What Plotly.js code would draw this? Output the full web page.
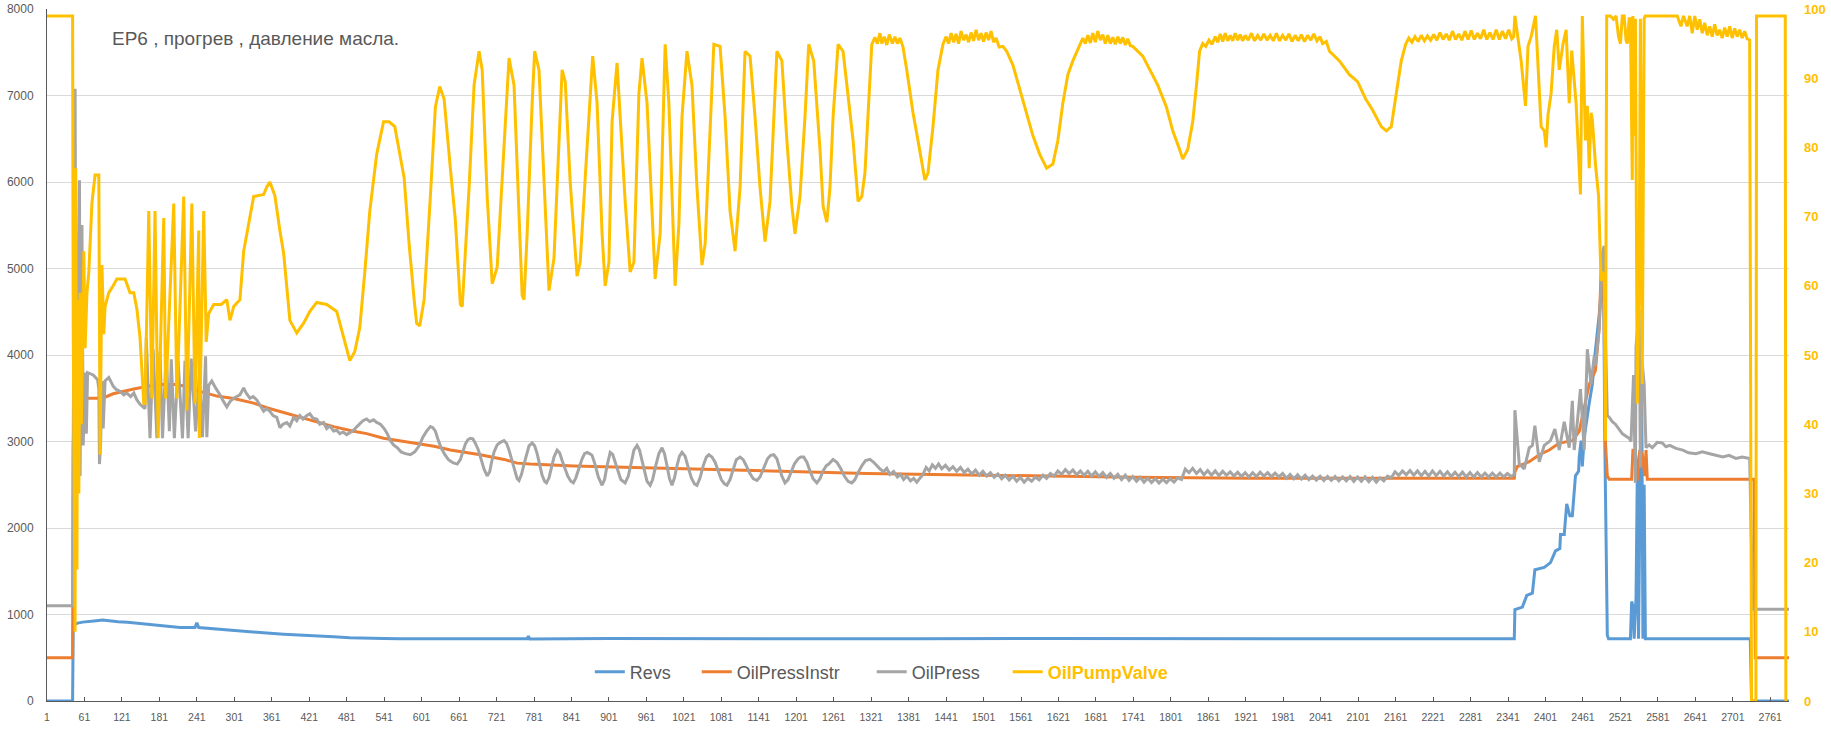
<!DOCTYPE html>
<html>
<head>
<meta charset="utf-8">
<script src="https://cdn.plot.ly/plotly-3.0.1.min.js"></script>
<style>
html,body{margin:0;padding:0;background:#fff;}
#chart{width:1831px;height:735px;}
</style>
</head>
<body>
<div id="chart"></div>
<script>
// ---- data (sample index, value) ----
const tickLabels = ["1","61","121","181","241","301","361","421","481","541","601","661","721","781","841","901","961","1021","1081","1141","1201","1261","1321","1381","1441","1501","1561","1621","1681","1741","1801","1861","1921","1981","2041","2101","2161","2221","2281","2341","2401","2461","2521","2581","2641","2701","2761"];

// Revs (left axis)
const revsPts = [[1,0],[42,0],[43,880],[50,900],[58,912],[65,915],[72,922],[80,928],[90,935],[100,925],[115,915],[130,910],[150,895],[165,880],[180,870],[200,858],[214,851],[238,850],[241,905],[244,850],[260,840],[280,826],[300,813],[325,800],[353,786],[380,772],[406,760],[433,752],[460,743],[486,732],[513,725],[540,722],[566,720],[620,718],[700,722],[770,720],[772,750],[774,718],[900,722],[1000,720],[1200,722],[1400,720],[1600,722],[1800,720],[2000,722],[2200,720],[2351,720],[2352,1057],[2364,1085],[2371,1220],[2380,1247],[2384,1518],[2399,1545],[2409,1600],[2417,1735],[2424,1762],[2425,1925],[2431,1925],[2435,2278],[2440,2142],[2444,2142],[2449,2603],[2454,2657],[2455,2820],[2458,3010],[2460,2712],[2463,3043],[2471,3443],[2476,3660],[2480,3986],[2490,4637],[2494,4950],[2496,3000],[2498,1500],[2500,760],[2502,720],[2537,720],[2539,1150],[2541,1100],[2543,720],[2546,1200],[2548,2600],[2550,720],[2553,2800],[2555,3800],[2557,720],[2559,2500],[2561,720],[2563,720],[2650,722],[2729,720],[2731,0],[2791,0]];

// OilPressInstr (left axis)
const instrPts = [[1,500],[42,500],[43,2950],[45,3500],[90,3500],[107,3552],[140,3606],[177,3660],[209,3660],[225,3633],[246,3579],[273,3525],[300,3498],[332,3444],[353,3390],[380,3335],[406,3281],[433,3227],[460,3172],[492,3118],[513,3091],[540,3037],[566,3010],[589,2982],[621,2945],[647,2901],[663,2885],[695,2847],[733,2793],[754,2750],[775,2739],[802,2728],[845,2717],[909,2706],[962,2695],[1015,2684],[1095,2668],[1175,2652],[1255,2641],[1314,2630],[1420,2619],[1527,2608],[1634,2598],[1740,2587],[1927,2576],[2351,2576],[2352,2650],[2356,2711],[2375,2766],[2391,2847],[2407,2901],[2423,2982],[2444,3010],[2455,3118],[2463,3389],[2471,3660],[2481,3823],[2487,4311],[2490,4962],[2494,5150],[2497,3000],[2500,2600],[2503,2565],[2539,2565],[2541,2900],[2545,2900],[2548,2550],[2552,2900],[2556,2850],[2560,2600],[2562,2900],[2564,2565],[2735,2565],[2737,500],[2791,500]];

// OilPress (left axis)
const pressPts = [[1,1100],[42,1100],[43,3000],[46,7077],[48,2500],[50,4500],[53,6019],[54,2600],[57,5504],[59,2955],[62,3796],[64,3091],[66,3796],[75,3769],[82,3715],[84,3606],[85,2739],[87,3000],[89,3700],[91,3150],[94,3700],[100,3740],[107,3640],[112,3600],[118,3580],[124,3540],[129,3560],[135,3520],[140,3560],[145,3480],[150,3430],[155,3400],[158,3380],[160,4203],[166,3037],[171,4067],[177,3037],[182,4040],[186,3037],[192,4040],[197,3118],[200,3950],[205,3037],[211,3932],[218,3037],[222,3932],[227,3037],[232,3959],[239,3118],[245,3769],[250,3050],[255,3986],[257,3050],[260,3650],[265,3700],[271,3620],[275,3580],[278,3540],[283,3470],[289,3400],[294,3460],[300,3500],[305,3520],[310,3540],[316,3620],[320,3560],[326,3500],[331,3520],[337,3480],[342,3420],[348,3350],[353,3380],[358,3350],[363,3300],[369,3280],[374,3160],[379,3200],[385,3220],[390,3180],[396,3280],[401,3240],[406,3300],[411,3260],[417,3300],[422,3320],[427,3270],[433,3260],[438,3200],[444,3220],[449,3150],[454,3180],[460,3120],[465,3130],[470,3090],[475,3110],[481,3080],[486,3100],[492,3130],[497,3170],[502,3200],[507,3240],[513,3260],[518,3230],[524,3250],[529,3220],[535,3200],[541,3150],[546,3091],[551,3010],[556,2960],[562,2928],[568,2880],[575,2860],[583,2847],[590,2880],[597,2950],[603,3050],[609,3120],[615,3172],[619,3160],[623,3120],[627,3030],[632,2930],[638,2850],[644,2790],[651,2755],[658,2739],[663,2790],[667,2880],[671,2970],[675,3020],[679,3037],[683,3030],[687,2980],[692,2900],[697,2790],[701,2680],[706,2603],[710,2650],[713,2760],[717,2880],[722,2960],[727,2990],[733,3010],[737,2980],[741,2900],[745,2790],[750,2650],[754,2570],[757,2549],[761,2620],[765,2739],[769,2860],[773,2950],[778,2983],[782,2950],[786,2860],[790,2730],[794,2610],[798,2540],[801,2522],[805,2580],[809,2690],[813,2820],[818,2901],[822,2870],[826,2780],[830,2700],[835,2600],[840,2540],[844,2522],[848,2580],[853,2700],[858,2800],[862,2860],[866,2874],[870,2860],[874,2840],[879,2730],[884,2590],[890,2494],[894,2560],[898,2720],[903,2874],[907,2850],[911,2760],[915,2650],[920,2560],[927,2522],[932,2600],[937,2760],[941,2900],[946,2955],[950,2900],[954,2780],[958,2650],[962,2540],[967,2494],[971,2560],[976,2720],[981,2860],[986,2928],[990,2860],[994,2720],[998,2570],[1002,2494],[1006,2580],[1010,2720],[1014,2830],[1018,2874],[1023,2830],[1028,2700],[1033,2580],[1038,2510],[1042,2494],[1047,2580],[1052,2720],[1057,2820],[1061,2847],[1066,2820],[1071,2760],[1076,2660],[1081,2560],[1086,2510],[1090,2494],[1095,2560],[1100,2690],[1105,2790],[1111,2820],[1116,2790],[1121,2720],[1126,2640],[1132,2570],[1138,2549],[1143,2590],[1149,2700],[1155,2800],[1160,2840],[1165,2847],[1170,2800],[1174,2700],[1178,2600],[1183,2522],[1188,2560],[1193,2650],[1198,2740],[1204,2800],[1208,2820],[1213,2820],[1218,2760],[1223,2660],[1228,2570],[1234,2522],[1239,2570],[1244,2660],[1249,2720],[1253,2739],[1260,2793],[1266,2760],[1272,2690],[1278,2600],[1284,2540],[1290,2522],[1295,2560],[1300,2640],[1306,2720],[1312,2780],[1319,2793],[1325,2760],[1330,2720],[1335,2684],[1341,2650],[1346,2690],[1351,2620],[1357,2655],[1363,2590],[1368,2620],[1373,2560],[1378,2600],[1384,2545],[1389,2575],[1394,2530],[1399,2570],[1404,2620],[1409,2700],[1414,2660],[1419,2730],[1424,2690],[1429,2740],[1434,2685],[1440,2725],[1446,2670],[1452,2710],[1458,2655],[1464,2700],[1470,2640],[1476,2680],[1482,2625],[1488,2670],[1494,2610],[1500,2655],[1506,2600],[1512,2640],[1518,2585],[1524,2625],[1530,2570],[1536,2610],[1542,2555],[1548,2600],[1554,2540],[1560,2585],[1566,2530],[1572,2575],[1578,2540],[1584,2590],[1590,2555],[1596,2610],[1602,2575],[1608,2630],[1614,2600],[1620,2660],[1626,2620],[1632,2675],[1638,2630],[1644,2670],[1650,2615],[1656,2660],[1662,2610],[1668,2655],[1674,2600],[1680,2650],[1686,2595],[1692,2640],[1698,2585],[1704,2630],[1710,2575],[1716,2620],[1722,2560],[1728,2610],[1734,2550],[1740,2595],[1746,2540],[1752,2585],[1758,2530],[1764,2575],[1770,2525],[1776,2570],[1782,2520],[1788,2565],[1794,2525],[1800,2570],[1806,2530],[1812,2580],[1818,2560],[1824,2680],[1830,2640],[1836,2690],[1842,2630],[1848,2675],[1854,2615],[1860,2665],[1866,2610],[1872,2660],[1878,2605],[1884,2655],[1890,2610],[1896,2650],[1902,2600],[1908,2645],[1914,2595],[1920,2640],[1926,2590],[1932,2640],[1938,2595],[1944,2645],[1950,2600],[1956,2640],[1962,2595],[1968,2635],[1974,2590],[1980,2630],[1986,2575],[1992,2620],[1998,2570],[2004,2615],[2010,2565],[2016,2610],[2022,2560],[2028,2600],[2034,2555],[2040,2600],[2046,2550],[2052,2595],[2058,2550],[2064,2595],[2070,2545],[2076,2590],[2082,2545],[2088,2595],[2094,2540],[2100,2590],[2106,2540],[2112,2590],[2118,2535],[2124,2585],[2130,2530],[2136,2580],[2142,2545],[2148,2600],[2154,2580],[2160,2650],[2166,2610],[2172,2660],[2178,2615],[2184,2665],[2190,2610],[2196,2660],[2202,2605],[2208,2655],[2214,2600],[2220,2660],[2226,2605],[2232,2655],[2238,2600],[2244,2650],[2250,2595],[2256,2645],[2262,2595],[2268,2645],[2274,2590],[2280,2640],[2286,2590],[2292,2640],[2298,2590],[2304,2635],[2310,2590],[2316,2635],[2322,2590],[2328,2635],[2334,2590],[2340,2630],[2346,2595],[2351,2620],[2352,3362],[2359,2739],[2367,2684],[2375,2928],[2380,2955],[2384,3183],[2391,2766],[2399,2955],[2409,3010],[2416,3145],[2423,2901],[2431,3227],[2439,2928],[2444,3471],[2447,2901],[2452,3227],[2457,3606],[2463,2901],[2468,4067],[2474,3660],[2479,3986],[2481,3877],[2487,4311],[2492,5179],[2495,5260],[2497,4200],[2500,3300],[2503,3281],[2508,3230],[2513,3200],[2518,3150],[2524,3091],[2530,3060],[2535,3037],[2538,3000],[2542,3769],[2545,2522],[2546,4094],[2551,4528],[2553,2700],[2556,3900],[2559,3660],[2562,2928],[2567,2960],[2572,2928],[2580,2990],[2588,2983],[2594,2940],[2600,2955],[2610,2920],[2621,2901],[2630,2870],[2642,2858],[2652,2880],[2664,2858],[2674,2840],[2685,2820],[2695,2840],[2706,2804],[2716,2820],[2728,2804],[2733,1060],[2791,1060]];

// OilPumpValve (right axis, %)
const valvePts = [[1,99],[42,99],[43,54],[46,10],[47,77],[49,19],[50,58],[52,30],[54,59],[56,40],[60,65],[62,51],[65,59],[68,62],[73,72],[78,76],[84,76],[86,35.6],[89,63],[92,53],[94,57],[100,59],[107,60],[113,61],[126,61],[134,59],[140,59],[145,56.6],[150,52.5],[156,43],[158,43],[164,70.8],[169,43.7],[174,70.8],[179,38],[188,69.8],[191,43.7],[204,71.9],[209,43.7],[220,72.9],[225,42],[233,71.9],[238,43],[244,68],[245,38],[252,70.8],[256,51.9],[260,56],[268,57.3],[280,57.3],[289,58],[294,55],[300,57],[310,58],[316,65],[324,68.8],[332,72.9],[348,73.2],[353,74.3],[358,75],[366,73],[374,68],[380,64.7],[390,55],[401,53.2],[412,54.6],[422,56.3],[433,57.6],[449,57.3],[465,56.3],[476,52.5],[486,49.2],[494,50.5],[502,54],[510,62],[518,70.8],[529,79],[540,83.7],[549,83.7],[558,83],[573,75.6],[581,66],[589,58],[593,54.6],[598,54.2],[605,58],[615,72.9],[623,85.8],[630,88.8],[637,87],[647,77],[655,69.5],[663,57.3],[666,57],[677,74.2],[685,89],[693,93.9],[698,91.2],[706,72.9],[714,60.3],[722,62.7],[730,75.6],[741,92.9],[749,89],[757,71.5],[762,58.6],[765,58],[770,67.5],[778,86.4],[782,93.9],[789,91.2],[797,74.2],[805,59.3],[813,64],[821,81],[826,91.2],[831,89.5],[839,74.9],[850,61.4],[855,63.4],[863,75.6],[875,93.2],[882,86.4],[890,67.5],[895,60],[901,63.4],[906,83.7],[914,92.2],[919,84.4],[927,72.2],[935,62],[941,63.4],[949,87.8],[954,92.9],[962,86.4],[970,69.5],[975,61],[983,67.5],[989,87.8],[991,94.9],[997,86.4],[1002,72.9],[1007,60],[1013,68.8],[1018,84.4],[1026,93.9],[1034,89],[1042,74.2],[1050,63],[1055,66],[1063,82.4],[1069,94.9],[1079,94.6],[1087,84.4],[1095,70.8],[1103,65],[1111,74.2],[1119,93.9],[1127,93.2],[1135,84.4],[1143,74.2],[1151,66.4],[1159,72.2],[1170,93.9],[1178,92.5],[1186,81],[1194,71.5],[1199,67.5],[1207,72.9],[1215,84.4],[1221,94.9],[1229,92.5],[1239,79.7],[1244,71.5],[1250,69.2],[1255,74.2],[1260,84.4],[1268,94.9],[1276,93.9],[1284,87.8],[1292,81],[1300,72.2],[1306,72.9],[1311,76.3],[1316,84.4],[1322,94.9],[1327,95.9],[1331,95],[1335,96.5],[1338,95],[1342,96],[1346,94.8],[1350,96.3],[1355,95],[1359,96],[1363,95],[1367,95.8],[1372,94.5],[1378,91.2],[1388,85],[1396,81],[1402,77.6],[1407,75.3],[1412,76.3],[1420,83],[1428,91.2],[1436,94.9],[1441,96],[1445,95],[1449,96.5],[1453,95.2],[1457,96.4],[1461,95],[1465,96.8],[1469,95.5],[1473,96.3],[1477,95.2],[1481,96.6],[1485,95.4],[1489,97],[1493,95.5],[1497,96.5],[1501,95.3],[1505,96.6],[1509,95.5],[1513,96.8],[1517,95.2],[1521,95.8],[1526,94.5],[1532,94.6],[1538,93.9],[1548,91.9],[1559,88.5],[1570,85],[1580,81.7],[1591,79],[1602,77],[1612,77.6],[1620,81],[1628,86.4],[1636,90.5],[1644,92.5],[1655,94.9],[1660,95.8],[1664,95],[1668,96.2],[1672,95.1],[1676,96.5],[1680,95.2],[1684,96.8],[1688,95.5],[1692,96.3],[1696,95],[1700,96.2],[1704,95],[1708,95.9],[1712,94.9],[1716,96],[1720,95],[1724,95.9],[1728,94.8],[1732,95.7],[1736,94.7],[1740,94.6],[1756,93.2],[1767,91.2],[1780,89],[1794,85.8],[1804,82.4],[1815,79.7],[1820,78.3],[1828,79.7],[1836,83.7],[1842,89],[1847,93.9],[1852,95],[1857,94.6],[1862,95.5],[1867,94.9],[1872,96],[1876,95.2],[1880,96.4],[1884,95.3],[1888,96.5],[1892,95.4],[1896,96.2],[1900,95.4],[1904,96.5],[1908,95.5],[1912,96.3],[1916,95.4],[1920,96.2],[1925,95.5],[1930,96.5],[1935,95.4],[1940,96.2],[1945,95.5],[1950,96.4],[1955,95.5],[1960,96.2],[1965,95.4],[1970,96.5],[1975,95.4],[1980,96.2],[1985,95.5],[1990,96.4],[1995,95.3],[2000,96.2],[2005,95.4],[2010,96.3],[2015,95.3],[2020,96.2],[2025,95.5],[2030,96.4],[2035,95.4],[2040,96],[2044,95],[2050,95.3],[2055,93.9],[2071,92.5],[2087,90.5],[2100,89.5],[2113,87],[2124,85.4],[2138,83],[2146,82.4],[2154,83],[2162,87.8],[2170,92.5],[2177,94.9],[2182,95.8],[2187,95.2],[2192,96],[2197,95.3],[2202,96.2],[2207,95.4],[2212,96.1],[2217,95.5],[2222,96.3],[2227,95.5],[2232,96.6],[2237,95.6],[2242,96.4],[2247,95.5],[2252,96.8],[2257,95.6],[2262,96.4],[2267,95.5],[2272,96.8],[2277,95.6],[2282,96.9],[2287,95.6],[2292,96.5],[2297,95.7],[2302,97],[2307,95.6],[2312,96.6],[2317,95.6],[2322,97],[2327,95.6],[2332,96.8],[2337,95.7],[2342,97],[2347,95.7],[2350,96],[2352,99],[2357,96],[2362,92.5],[2369,86],[2373,94.6],[2378,96],[2385,99],[2389,91.9],[2394,83],[2399,82.4],[2402,80],[2405,84.7],[2410,87.8],[2415,94.6],[2419,97],[2423,91.2],[2429,94.9],[2434,97],[2439,86.4],[2443,94],[2450,86.4],[2457,73.2],[2460,99],[2465,81],[2468,86],[2471,77],[2474,85],[2476,84],[2481,77.6],[2486,73],[2490,60.7],[2492,62],[2495,61.4],[2497,37.6],[2499,99],[2505,99],[2510,98.5],[2514,99],[2518,96],[2521,95],[2524,99],[2527,99],[2530,95.5],[2532,95],[2535,98.6],[2537,98.6],[2540,75.3],[2541,99],[2542,81.7],[2545,98.6],[2548,43],[2551,61],[2553,98.6],[2556,45.8],[2559,98.6],[2561,99],[2612,99],[2618,97.5],[2622,99],[2628,97.5],[2632,99],[2636,96.5],[2640,99],[2644,97],[2648,98.5],[2652,96.5],[2656,98],[2660,96.2],[2664,97.5],[2668,96],[2672,97.8],[2676,96.2],[2680,97],[2684,95.8],[2688,97.3],[2692,96],[2696,97.5],[2700,95.8],[2704,97.2],[2708,96],[2712,97],[2716,95.8],[2720,96.8],[2724,95.7],[2728,95.5],[2731,0],[2738,0],[2739,99],[2785,99],[2786,0]];

const seriesNames = ["Revs","OilPressInstr","OilPress","OilPumpValve"];
const seriesColors = ["#5B9BD5","#ED7D31","#A5A5A5","#FFC000"];

const xs = p => p.map(d => d[0]);
const ys = p => p.map(d => d[1]);
const tickVals = tickLabels.map(Number);

const FONT = "Liberation Sans, Arial, sans-serif";
const traces = [
  {x: xs(revsPts),  y: ys(revsPts),  name: seriesNames[0], legend: 'legend',  yaxis: 'y',  mode: 'lines', line: {color: seriesColors[0], width: 3}},
  {x: xs(instrPts), y: ys(instrPts), name: seriesNames[1], legend: 'legend2', yaxis: 'y',  mode: 'lines', line: {color: seriesColors[1], width: 3}},
  {x: xs(pressPts), y: ys(pressPts), name: seriesNames[2], legend: 'legend3', yaxis: 'y',  mode: 'lines', line: {color: seriesColors[2], width: 3}},
  {x: xs(valvePts), y: ys(valvePts), name: '<b>' + seriesNames[3] + '</b>', legend: 'legend4', yaxis: 'y2', mode: 'lines', line: {color: seriesColors[3], width: 3}}
];

const legBase = {orientation: 'h', xanchor: 'left', yanchor: 'middle', y: 0.042, bgcolor: 'rgba(0,0,0,0)', font: {family: FONT, size: 18, color: '#595959'}};

const layout = {
  width: 1831, height: 735,
  margin: {l: 47, r: 42, t: 9, b: 34},
  paper_bgcolor: '#ffffff', plot_bgcolor: '#ffffff',
  font: {family: FONT, color: '#595959'},
  title: {text: 'EP6 , прогрев , давление масла.', x: 112/1831, xanchor: 'left', xref: 'container', y: 1 - 38/735, yanchor: 'middle', yref: 'container', font: {family: FONT, size: 19, color: '#595959'}},
  xaxis: {range: [1, 2791], tickvals: tickVals, ticktext: tickLabels, showgrid: false, zeroline: false, showline: true, linecolor: '#595959', linewidth: 1, ticks: 'inside', ticklen: 4, tickcolor: '#595959', tickfont: {family: FONT, size: 10.5, color: '#595959'}, ticklabelstandoff: 6},
  yaxis: {range: [0, 8000], dtick: 1000, tick0: 0, showgrid: true, gridcolor: '#D9D9D9', gridwidth: 1, zeroline: false, showline: true, linecolor: '#595959', linewidth: 1, ticks: '', tickfont: {family: FONT, size: 12, color: '#595959'}, ticklabelstandoff: 10},
  yaxis2: {range: [0, 100], dtick: 10, tick0: 0, overlaying: 'y', side: 'right', showgrid: false, zeroline: false, showline: false, ticks: '', tickfont: {family: FONT, size: 13, color: '#FFC000', weight: 700}, ticklabelstandoff: 14},
  legend:  Object.assign({}, legBase, {x: (590 - 47)/1742.6}),
  legend2: Object.assign({}, legBase, {x: (697 - 47)/1742.6}),
  legend3: Object.assign({}, legBase, {x: (872 - 47)/1742.6}),
  legend4: Object.assign({}, legBase, {x: (1008 - 47)/1742.6, font: {family: FONT, size: 18, color: '#FFC000'}}),
  showlegend: true
};

Plotly.newPlot('chart', traces, layout, {displayModeBar: false, staticPlot: true});
</script>
</body>
</html>
